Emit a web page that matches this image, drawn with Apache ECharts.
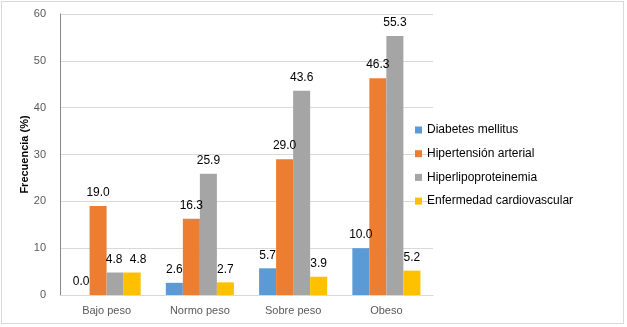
<!DOCTYPE html>
<html><head><meta charset="utf-8">
<script src="https://cdn.jsdelivr.net/npm/echarts@6/dist/echarts.min.js"></script>
<style>html,body{margin:0;padding:0;background:#fff}#c{width:627px;height:327px}
#frame{position:absolute;left:1px;top:1px;width:623px;height:323px;border:1px solid #d9d9d9;box-sizing:border-box;pointer-events:none}</style>
</head><body><div id="c"></div><div id="frame"></div>
<script>
const categories = ['Bajo peso', 'Normo peso', 'Sobre peso', 'Obeso'];
const seriesNames = ['Diabetes mellitus', 'Hipertensión arterial', 'Hiperlipoproteinemia', 'Enfermedad cardiovascular'];
const diabetes = [0.0, 2.6, 5.7, 10.0];
const hipertension = [19.0, 16.3, 29.0, 46.3];
const hiperlipo = [4.8, 25.9, 43.6, 55.3];
const cardio = [4.8, 2.7, 3.9, 5.2];
const colors = ['#5B9BD5', '#ED7D31', '#A5A5A5', '#FFC000'];
const values = [diabetes, hipertension, hiperlipo, cardio];
const yTicks = { min: 0, max: 60, interval: 10 };

const font = 'Liberation Sans, Arial, sans-serif';
const chart = echarts.init(document.getElementById('c'), null, { renderer: 'canvas' });
chart.setOption({
  animation: false,
  textStyle: { fontFamily: font },
  grid: { left: 60, right: 194, top: 14, bottom: 32, containLabel: false },
  legend: {
    orient: 'vertical', left: 410, top: 119, itemWidth: 7, itemHeight: 7, itemGap: 11.7,
    icon: 'rect',
    textStyle: { fontFamily: font, fontSize: 12, color: '#000' },
    data: seriesNames
  },
  xAxis: {
    type: 'category', data: categories,
    axisLine: { lineStyle: { color: '#d9d9d9' } },
    axisTick: { show: false },
    axisLabel: { color: '#595959', fontSize: 11, margin: 10, fontFamily: font }
  },
  yAxis: {
    type: 'value', min: yTicks.min, max: yTicks.max, interval: yTicks.interval,
    name: 'Frecuencia (%)', nameLocation: 'middle', nameRotate: 90, nameGap: 30,
    nameMoveOverlap: false,
    nameTextStyle: { fontWeight: 'bold', fontSize: 11, color: '#000', fontFamily: font },
    axisLine: { show: true, lineStyle: { color: '#868686' } },
    axisTick: { show: false },
    axisLabel: { color: '#595959', fontSize: 11, margin: 14, fontFamily: font },
    splitLine: { lineStyle: { color: '#d9d9d9' } }
  },
  series: seriesNames.map((n, i) => ({
    name: n, type: 'bar',
    data: values[i].map((v, j) => (i === 3 && j === 0) ? { value: v, label: { offset: [6, 0] } } :
                                 (i === 2 && j === 0) ? { value: v, label: { offset: [-1, 0] } } : v),
    barGap: '0%', barCategoryGap: '27%',
    itemStyle: { color: colors[i] },
    label: { show: true, position: 'top', distance: 7, color: '#000', fontSize: 12, fontFamily: font,
      formatter: p => p.value.toFixed(1) }
  }))
});
</script></body></html>
